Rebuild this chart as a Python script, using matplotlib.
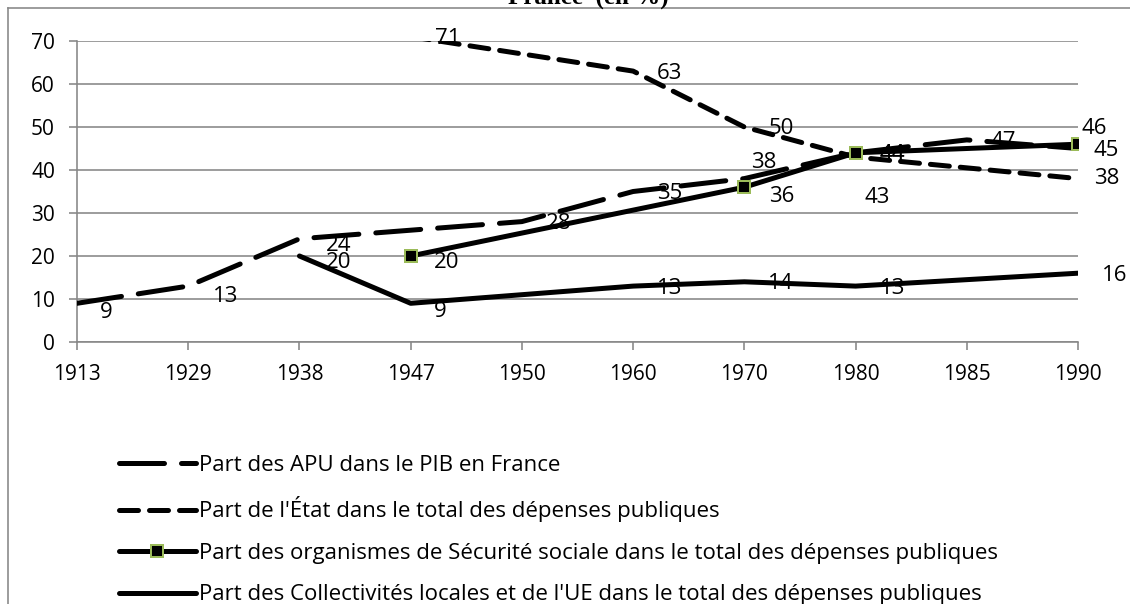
import matplotlib.pyplot as plt
import numpy as np
from matplotlib.lines import Line2D

# Categories on the x axis
years = ['1913', '1929', '1938', '1947', '1950', '1960', '1970', '1980', '1985', '1990']

# Series values (None = no value for that year, line is joined across the gap)
apu = [9, 13, 24, None, 28, 35, 38, 44, 47, 45]
etat = [None, None, None, 71, None, 63, 50, 43, None, 38]
secu = [None, None, None, 20, None, None, 36, 44, None, 46]
coll = [None, None, 20, 9, None, 13, 14, 13, None, 16]

names = [
    "Part des APU dans le PIB en France",
    "Part de l'État dans le total des dépenses publiques",
    "Part des organismes de Sécurité sociale dans le total des dépenses publiques",
    "Part des Collectivités locales et de l'UE dans le total des dépenses publiques",
]

W, H, DPI = 1130, 604, 100
PX = 72 / DPI  # points per pixel

plt.rcParams['font.family'] = ['Open Sans', 'DejaVu Sans']

fig = plt.figure(figsize=(W / DPI, H / DPI), dpi=DPI)
ax = fig.add_axes([77 / W, 1 - 342 / H, (1078 - 77) / W, (342 - 41) / H])

grey = '#878787'
lw = 5 * PX

def valid(vals):
    idx = [i for i, v in enumerate(vals) if v is not None]
    return idx, [vals[i] for i in idx]

styles = [
    dict(color='black', lw=lw, dashes=(9.0, 3.4), dash_capstyle='round'),
    dict(color='black', lw=lw, dashes=(3.8, 2.2), dash_capstyle='round'),
    dict(color='black', lw=lw, solid_capstyle='round', marker='s', markersize=12 * PX,
         markerfacecolor='black', markeredgecolor='#9bbb59', markeredgewidth=2 * PX),
    dict(color='black', lw=lw, solid_capstyle='round'),
]

series = [apu, etat, secu, coll]
handles = []
for vals, name, st in zip(series, names, styles):
    idx, v = valid(vals)
    line, = ax.plot(idx, v, label=name, zorder=3, **st)
    handles.append(line)

# data labels, offsets in pixels from the point (left edge, down is positive)
default_off = (24, 2)
offsets = {
    (0, 0): (23, 9), (0, 1): (25, 10), (0, 2): (26, 7), (0, 6): (7, -16), (0, 9): (16, 2),
    (1, 7): (9, 40), (1, 9): (16, 0),
    (2, 3): (23, 6), (2, 6): (25, 9), (2, 9): (4, -16),
    (3, 2): (26, 6), (3, 3): (23, 8),
}
for s, vals in enumerate(series):
    for i, v in enumerate(vals):
        if v is None:
            continue
        dx, dy = offsets.get((s, i), default_off)
        ax.annotate(str(v), (i, v), xytext=(dx * PX, -dy * PX), textcoords='offset points',
                    ha='left', va='center', fontsize=16, zorder=2, annotation_clip=False)

ax.set_xlim(0, len(years) - 1)
ax.set_ylim(0, 70)
ax.set_xticks(range(len(years)))
ax.set_xticklabels(years)
ax.set_yticks(range(0, 71, 10))
ax.yaxis.grid(True, color=grey, lw=1.6 * PX)
ax.set_axisbelow(True)
for side in ['top', 'right']:
    ax.spines[side].set_visible(False)
for side in ['left', 'bottom']:
    ax.spines[side].set_color(grey)
    ax.spines[side].set_linewidth(1.6 * PX)
ax.tick_params(axis='both', colors=grey, labelcolor='black', labelsize=15, width=1.6 * PX)
ax.tick_params(axis='y', length=8 * PX, pad=14 * PX)
ax.tick_params(axis='x', length=8 * PX, pad=14 * PX)

# legend below the plot
leg = fig.legend(handles=handles, loc='upper left', bbox_to_anchor=(119 / W, 1 - 455 / H),
                 frameon=False, fontsize=16, handlelength=3.45, handletextpad=0.14,
                 labelspacing=0.92, borderpad=0, borderaxespad=0)

# outer frame and the clipped title of the chart
fig.add_artist(Line2D([8 / W, 8 / W], [0, 1 - 8 / H], color=grey, lw=1.6 * PX, transform=fig.transFigure))
fig.add_artist(Line2D([8 / W, 1], [1 - 8 / H, 1 - 8 / H], color=grey, lw=1.6 * PX, transform=fig.transFigure))
fig.text(588 / W, 1 - 5 / H, 'France  (en %)', ha='center', va='baseline', fontsize=18,
         fontweight='bold', family='Liberation Serif')

fig.savefig('out.png', dpi=DPI)
